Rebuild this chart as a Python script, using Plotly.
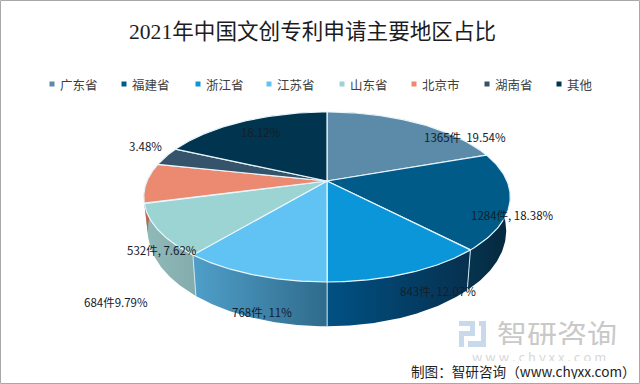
import numpy as np
import plotly.graph_objects as go

categories = ["广东省", "福建省", "浙江省", "江苏省", "山东省", "北京市", "湖南省", "其他"]
shares = [19.54, 18.38, 12.07, 11.0, 9.79, 7.62, 3.48, 18.12]
labels = ["1365件  19.54%", "1284件, 18.38%", "843件, 12.07%", "768件, 11%",
          "684件9.79%", "532件, 7.62%", "3.48%", "18.12%"]
top_colors = ["#5b8ba9", "#005b88", "#0b96d9", "#60c3f3", "#9cd3d3", "#ec8a71", "#35536b", "#01344f"]
side_left = ["#3f6a85", "#05344f", "#005184", "#4f9fca", "#90b9b9", "#b86a55", "#243c50", "#01263a"]
side_right = ["#3f6a85", "#05283d", "#07304e", "#2f6b8b", "#84acac", "#b86a55", "#243c50", "#01263a"]

label_pos = [(465, 137), (512, 215), (438, 291), (262, 312), (116, 302), (162, 250), (145, 146), (261, 132)]
legend_x = [52, 124, 198, 269, 342, 414, 487, 559]
FONT = "Noto Sans CJK SC, Microsoft YaHei, sans-serif"


def project(theta, cx, cy, R, H, k):
    u, v = np.sin(theta), np.cos(theta)
    d = 1 + k * v
    return cx + R * u / d, cy - H * v / d


def top(theta):
    return project(theta, 327, 181, 180, 82, 0.188)


def low(theta):
    return project(theta, 327, 213, 176, 92, 0.188)


fig = go.Figure()
edges = np.concatenate([[0], np.cumsum(shares)]) / sum(shares) * 2 * np.pi

# sides
for i in range(len(shares)):
    t = np.linspace(edges[i], edges[i + 1], 80)
    xa, ya = top(t)
    xb, yb = low(t)
    fig.add_trace(go.Scatter(
        x=np.concatenate([xa, xb[::-1]]), y=np.concatenate([ya, yb[::-1]]),
        mode="lines", line=dict(width=0), fill="toself",
        fillgradient=dict(type="horizontal",
                          colorscale=[[0, side_left[i]], [1, side_right[i]]]),
        hoverinfo="skip", showlegend=False))
# side seams
for e in edges[1:]:
    if np.cos(e) < -0.3:
        xa, ya = top(e)
        xb, yb = low(e)
        fig.add_trace(go.Scatter(x=[xa, xb], y=[ya, yb], mode="lines",
                                 line=dict(color="#cfe6f2", width=1),
                                 hoverinfo="skip", showlegend=False))
# top faces
for i in range(len(shares)):
    t = np.linspace(edges[i], edges[i + 1], 80)
    xa, ya = top(t)
    fig.add_trace(go.Scatter(
        x=np.concatenate([[327], xa, [327]]), y=np.concatenate([[181], ya, [181]]),
        mode="lines", line=dict(color="#e8f6fb", width=1.2), fill="toself",
        fillcolor=top_colors[i], name=categories[i], hoverinfo="name", showlegend=False))

# legend markers
fig.add_trace(go.Scatter(x=legend_x, y=[84] * len(legend_x), mode="markers",
                         marker=dict(symbol="square", size=5, color=top_colors),
                         hoverinfo="skip", showlegend=False))

ann = []
for name, x in zip(categories, legend_x):
    ann.append(dict(x=x + 6, y=84, text=name, xanchor="left", yanchor="middle", showarrow=False,
                    font=dict(size=12.5, color="#404040", family=FONT)))
for text, (x, y) in zip(labels, label_pos):
    ann.append(dict(x=x, y=y, text=text, xanchor="center", yanchor="middle", showarrow=False,
                    font=dict(size=11.5, color="#14202c", family=FONT)))
ann.append(dict(x=312, y=32, text="2021年中国文创专利申请主要地区占比", xanchor="center", yanchor="middle",
                showarrow=False, font=dict(size=21.6, color="#1c1c24",
                                           family="Liberation Serif, Noto Sans CJK SC, serif")))
ann.append(dict(x=557, y=333, text="智研咨询", xanchor="center", yanchor="middle", showarrow=False,
                height=24, font=dict(size=30, color="#c9c9c9", family=FONT)))
ann.append(dict(x=539, y=356, text="w w w . c h y x x . c o m", xanchor="center", yanchor="middle",
                showarrow=False, height=10, font=dict(size=13, color="#d8d8d8", family=FONT)))
ann.append(dict(x=523, y=371, text="制图：智研咨询（www.chyxx.com）", xanchor="center", yanchor="middle",
                showarrow=False, height=16, font=dict(size=13.6, color="#222222", family=FONT)))

shapes = [dict(type="rect", x0=0.5, y0=0.5, x1=639.5, y1=383.5, line=dict(color="#a8a8a8", width=1))]
# watermark logo
logo = "#c9d9ec"
for x0, y0, x1, y1 in [(459, 321, 475, 326), (470, 321, 475, 336), (459, 331, 475, 336),
                       (459, 331, 464, 347), (479, 321, 486, 326), (481, 321, 486, 347),
                       (468, 341, 486, 347)]:
    shapes.append(dict(type="rect", x0=x0, y0=y0, x1=x1, y1=y1, fillcolor=logo, line=dict(width=0), layer="below"))

fig.update_layout(
    width=640, height=384, autosize=False,
    margin=dict(l=0, r=0, t=0, b=0),
    paper_bgcolor="white", plot_bgcolor="white",
    xaxis=dict(range=[0, 640], visible=False, fixedrange=True),
    yaxis=dict(range=[384, 0], visible=False, fixedrange=True),
    annotations=ann, shapes=shapes, showlegend=False)

fig.write_html("out.html", config=dict(displayModeBar=False),
               post_script="document.body.style.margin='0';document.body.style.overflow='hidden';")
